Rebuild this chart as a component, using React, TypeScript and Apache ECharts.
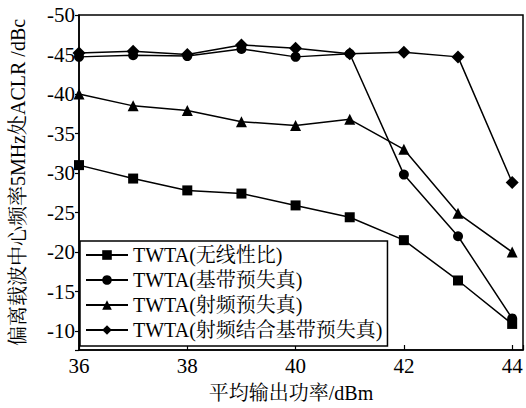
import React, { useEffect, useRef } from "react";
import * as echarts from "echarts";

const xValues = [36, 37, 38, 39, 40, 41, 42, 43, 44];
const seriesNames = [
  "TWTA(无线性比)",
  "TWTA(基带预失真)",
  "TWTA(射频预失真)",
  "TWTA(射频结合基带预失真)",
];
const noLinearization = [-31, -29.3, -27.8, -27.4, -25.9, -24.4, -21.5, -16.4, -10.9];
const basebandPD = [-44.7, -44.9, -44.8, -45.7, -44.7, -45.1, -29.8, -22.0, -11.6];
const rfPD = [-40, -38.5, -37.9, -36.5, -36.0, -36.8, -33.0, -24.9, -20.0];
const rfBasebandPD = [-45.2, -45.4, -45.0, -46.2, -45.8, -45.1, -45.3, -44.7, -28.8];
const symbols = ["rect", "circle", "triangle", "diamond"];
const symbolSizes = [10, 10, 11, 13];

const FONT = "'Liberation Serif', 'Times New Roman', 'Noto Serif CJK SC', 'Noto Sans CJK SC', serif";

export default function App() {
  const ref = useRef<HTMLDivElement>(null);
  useEffect(() => {
    if (!ref.current) return;
    const chart = echarts.init(ref.current, undefined, { renderer: "svg" });
    const datasets = [noLinearization, basebandPD, rfPD, rfBasebandPD];
    chart.setOption({
      animation: false,
      backgroundColor: "#fff",
      textStyle: { fontFamily: FONT, color: "#000" },
      grid: {
        left: 72,
        top: 15,
        right: 3,
        bottom: 56,
        show: true,
        borderColor: "#000",
        borderWidth: 1.5,
        backgroundColor: "transparent",
      },
      legend: {
        orient: "vertical",
        left: 80,
        top: 241,
        padding: [4, 5, 6, 5],
        itemGap: 5,
        itemWidth: 42,
        itemHeight: 12,
        borderColor: "#000",
        borderWidth: 1.5,
        backgroundColor: "#fff",
        textStyle: { fontFamily: FONT, fontSize: 20, color: "#000" },
        data: seriesNames,
      },
      xAxis: {
        type: "value",
        min: 36,
        max: 44.2,
        interval: 2,
        name: "平均输出功率/dBm",
        nameLocation: "middle",
        nameGap: 33,
        nameTextStyle: { fontFamily: FONT, fontSize: 20, color: "#000", padding: [0, 20, 0, 0] },
        axisLine: { lineStyle: { color: "#000", width: 1.5 } },
        axisTick: { inside: true, length: 5, lineStyle: { color: "#000", width: 1.2 } },
        axisLabel: {
          fontFamily: FONT,
          fontSize: 21,
          color: "#000",
          margin: 5,
          formatter: (v: number) => (Math.abs(v % 2) < 1e-6 ? String(v) : ""),
        },
        splitLine: { show: false },
      },
      yAxis: {
        type: "value",
        inverse: true,
        min: -50,
        max: -7.6,
        interval: 5,
        name: "偏离载波中心频率5MHz处ACLR /dBc",
        nameLocation: "middle",
        nameGap: 51,
        nameRotate: 90,
        nameTextStyle: { fontFamily: FONT, fontSize: 20, color: "#000" },
        axisLine: { lineStyle: { color: "#000", width: 1.5 } },
        axisTick: { inside: false, length: 4, lineStyle: { color: "#000", width: 1.2 } },
        axisLabel: {
          fontFamily: FONT,
          fontSize: 21,
          color: "#000",
          margin: 4,
          formatter: (v: number) => (Math.abs(v % 5) < 1e-6 ? String(v) : ""),
        },
        splitLine: { show: false },
      },
      series: seriesNames.map((name, i) => ({
        name,
        type: "line",
        data: xValues.map((x, j) => [x, datasets[i][j]]),
        symbol: symbols[i],
        symbolSize: symbolSizes[i],
        showAllSymbol: true,
        lineStyle: { color: "#000", width: 1.5 },
        itemStyle: { color: "#000" },
        z: 2,
      })),
    });
    return () => chart.dispose();
  }, []);
  return (
    <div
      ref={ref}
      style={{ position: "absolute", left: 0, top: 0, width: 526, height: 408 }}
    />
  );
}
